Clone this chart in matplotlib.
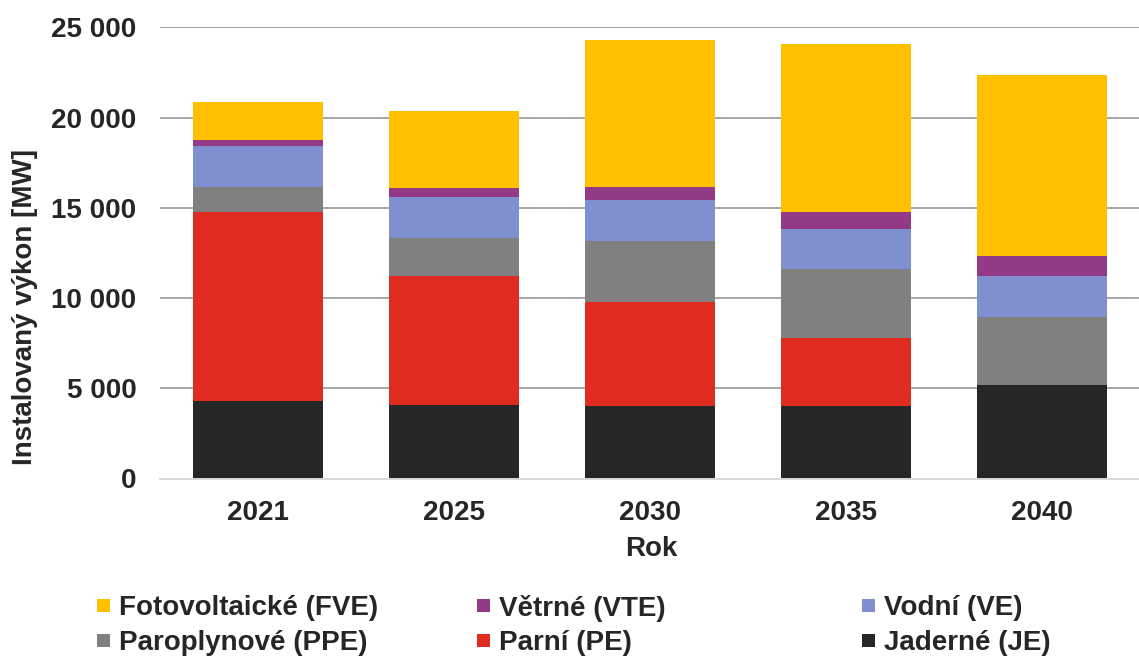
import matplotlib
matplotlib.use("Agg")
import matplotlib.pyplot as plt
from matplotlib.patches import Rectangle
from matplotlib.ticker import FuncFormatter

plt.rcParams['font.family'] = ['Liberation Sans', 'DejaVu Sans']
plt.rcParams['font.weight'] = 'bold'

years = ['2021', '2025', '2030', '2035', '2040']
# stacked from bottom to top
series_names = ['Jaderné (JE)', 'Parní (PE)', 'Paroplynové (PPE)', 'Vodní (VE)', 'Větrné (VTE)', 'Fotovoltaické (FVE)']
JE = [4290, 4045, 4010, 4010, 5155]
PE = [10475, 7190, 5765, 3750, 0]
PPE = [1390, 2085, 3380, 3845, 3810]
VE = [2270, 2260, 2255, 2235, 2250]
VTE = [355, 535, 760, 945, 1130]
FVE = [2085, 4265, 8130, 9310, 10010]
series_values = [JE, PE, PPE, VE, VTE, FVE]
colors = ['#262626', '#E02B20', '#808080', '#7F8FD0', '#923A86', '#FFC000']

TXT = '#262626'
FS = 20
W, H = 1139, 661
fig = plt.figure(figsize=(W / 100, H / 100), dpi=100)
ax = fig.add_axes([160 / W, 1 - 478.5 / H, (1140 - 160) / W, (478.5 - 27.3) / H])

x = list(range(len(years)))
bottom = [0] * len(years)
for name, vals, col in zip(series_names, series_values, colors):
    ax.bar(x, vals, width=0.663, bottom=bottom, color=col, label=name,
           edgecolor='none', zorder=3)
    bottom = [b + v for b, v in zip(bottom, vals)]

ax.set_xlim(-0.5, len(years) - 0.5)
ax.set_ylim(0, 25000)
ax.set_yticks([0, 5000, 10000, 15000, 20000, 25000])
ax.yaxis.set_major_formatter(FuncFormatter(lambda v, p: format(int(v), ',').replace(',', ' ')))
ax.set_xticks(x)
ax.set_xticklabels(years)
ax.grid(axis='y', color='#A6A6A6', linewidth=1.4, zorder=0)
for s in ['top', 'right', 'left']:
    ax.spines[s].set_visible(False)
ax.spines['bottom'].set_color('#D9D9D9')
ax.spines['bottom'].set_linewidth(1.4)
ax.spines['bottom'].set_zorder(4)
ax.tick_params(axis='both', length=0, labelsize=FS, colors=TXT)
ax.tick_params(axis='y', pad=17)
ax.tick_params(axis='x', pad=15.5)

fig.text(651 / W, 1 - 549 / H, 'Rok', ha='center', va='center', fontsize=FS,
         color=TXT, fontweight='bold')
fig.text(25 / W, 1 - 307 / H, 'Instalovaný výkon [MW]', ha='center', va='center',
         rotation=90, fontsize=FS, color=TXT, fontweight='bold')

# legend (manual grid, order as in reference)
leg_order = [5, 4, 3, 2, 1, 0]
col_x = [97, 477, 862]
row_y = [605, 640]
for k, idx in enumerate(leg_order):
    r, c = divmod(k, 3)
    mx, my = col_x[c], row_y[r]
    fig.patches.append(Rectangle((mx / W, 1 - (my + 6.5) / H), 13 / W, 13 / H,
                                 transform=fig.transFigure, facecolor=colors[idx],
                                 edgecolor='none'))
    fig.text((mx + 22) / W, 1 - my / H, series_names[idx], ha='left', va='center_baseline',
             fontsize=FS, color=TXT, fontweight='bold')

fig.savefig('out.png', dpi=100)
